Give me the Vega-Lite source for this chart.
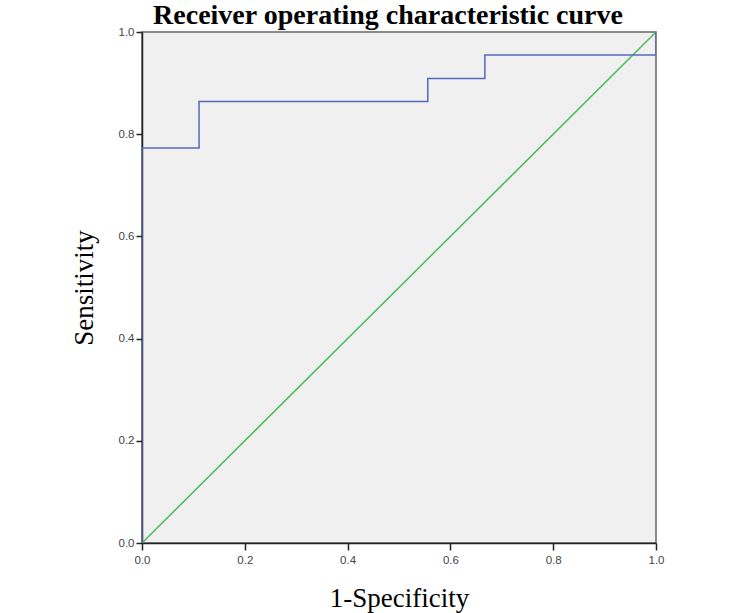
{
  "$schema": "https://vega.github.io/schema/vega-lite/v6.json",
  "width": 514,
  "height": 511,
  "autosize": {"type": "none"},
  "padding": {"left": 142, "top": 32, "right": 78, "bottom": 70},
  "background": "white",
  "title": {
    "text": "Receiver operating characteristic curve",
    "font": "Liberation Serif",
    "fontSize": 28,
    "fontWeight": "bold",
    "color": "#000000",
    "anchor": "middle",
    "offset": -4,
    "dx": -11
  },
  "config": {
    "view": {"fill": "#F0F0F0", "stroke": "#666666", "strokeWidth": 1.5},
    "axis": {
      "grid": false,
      "domainColor": "#222222",
      "domainWidth": 1.5,
      "tickColor": "#222222",
      "tickSize": 7,
      "tickWidth": 1.5,
      "labelFont": "Liberation Sans",
      "labelFontSize": 11.5,
      "labelColor": "#444444",
      "labelFlush": false,
      "titleFont": "Liberation Serif",
      "titleFontSize": 27,
      "titleFontWeight": "normal",
      "titleColor": "#000000"
    }
  },
  "datasets": {
    "roc": [
      {"order": 0, "fpr": 0, "tpr": 0},
      {"order": 1, "fpr": 0, "tpr": 0.773},
      {"order": 2, "fpr": 0.111, "tpr": 0.773},
      {"order": 3, "fpr": 0.111, "tpr": 0.864},
      {"order": 4, "fpr": 0.556, "tpr": 0.864},
      {"order": 5, "fpr": 0.556, "tpr": 0.909},
      {"order": 6, "fpr": 0.667, "tpr": 0.909},
      {"order": 7, "fpr": 0.667, "tpr": 0.955},
      {"order": 8, "fpr": 1, "tpr": 0.955},
      {"order": 9, "fpr": 1, "tpr": 1}
    ],
    "ref": [
      {"order": 0, "fpr": 0, "tpr": 0},
      {"order": 1, "fpr": 1, "tpr": 1}
    ]
  },
  "layer": [
    {
      "data": {"name": "ref"},
      "mark": {"type": "line", "color": "#4CBB5A", "strokeWidth": 1.5, "clip": true},
      "encoding": {
        "x": {"field": "fpr", "type": "quantitative", "scale": {"domain": [0, 1], "nice": false}, "axis": {"title": "1-Specificity", "values": [0, 0.2, 0.4, 0.6, 0.8, 1.0], "format": ".1f", "titlePadding": 20, "labelPadding": 4}},
        "y": {"field": "tpr", "type": "quantitative", "scale": {"domain": [0, 1], "nice": false}, "axis": {"title": "Sensitivity", "values": [0, 0.2, 0.4, 0.6, 0.8, 1.0], "format": ".1f", "titlePadding": 20, "labelPadding": 2, "tickSize": 6}},
        "order": {"field": "order"}
      }
    },
    {
      "data": {"name": "roc"},
      "mark": {"type": "line", "color": "#5468BE", "strokeWidth": 1.5, "clip": true},
      "encoding": {
        "x": {"field": "fpr", "type": "quantitative"},
        "y": {"field": "tpr", "type": "quantitative"},
        "order": {"field": "order"}
      }
    }
  ]
}
